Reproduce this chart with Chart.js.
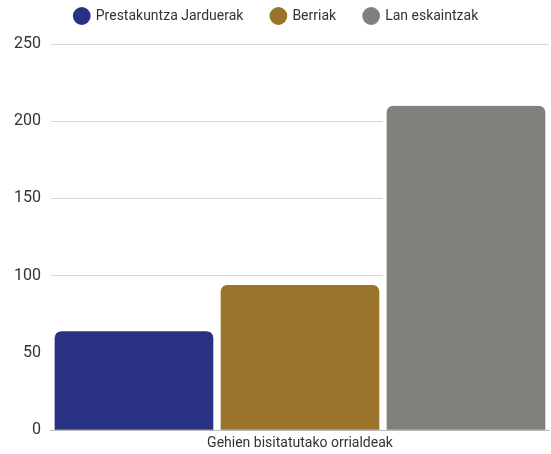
<!DOCTYPE html>
<html>
<head>
<meta charset="utf-8">
<script src="https://cdn.jsdelivr.net/npm/chart.js@4"></script>
<style>
  html, body { margin: 0; padding: 0; background: #fff; }
  #wrap { width: 551px; height: 454px; }
</style>
</head>
<body>
<div id="wrap"><canvas id="chart"></canvas></div>
<script>
// datuak
const categories = ['Gehien bisitatutako orrialdeak'];
const seriesNames = ['Prestakuntza Jarduerak', 'Berriak', 'Lan eskaintzak'];
const seriesValues = [[64], [94], [210]];
const seriesColors = ['#283182', '#9a742b', '#81807b'];
const yTicks = [0, 50, 100, 150, 200, 250];

const fontFamily = 'Roboto, sans-serif';

// legendaren azpian tarte gehiago
const legendMargin = {
  id: 'legendMargin',
  beforeInit(chart) {
    const origFit = chart.legend.fit;
    chart.legend.fit = function () {
      origFit.bind(chart.legend)();
      this.height += 11;
    };
  }
};

const ctx = document.getElementById('chart').getContext('2d');
const chart = new Chart(ctx, {
  type: 'bar',
  data: {
    labels: categories,
    datasets: seriesNames.map((name, i) => ({
      label: name,
      data: seriesValues[i],
      backgroundColor: seriesColors[i],
      borderColor: '#ffffff',
      borderWidth: { left: 4, right: 4, top: 0, bottom: 0 },
      borderRadius: 11,
      borderSkipped: 'start',
      categoryPercentage: 1,
      barPercentage: 1
    }))
  },
  options: {
    responsive: true,
    maintainAspectRatio: false,
    animation: false,
    layout: { padding: { left: 4, right: 2, top: -19, bottom: -3 } },
    plugins: {
      legend: {
        position: 'top',
        labels: {
          usePointStyle: true,
          pointStyle: 'circle',
          boxWidth: 14,
          boxHeight: 14,
          padding: 28,
          color: '#333',
          font: { family: fontFamily, size: 14 }
        }
      },
      tooltip: { enabled: false }
    },
    scales: {
      x: {
        grid: { display: false, drawTicks: false },
        border: { display: true, color: '#bbb' },
        ticks: { color: '#333', padding: 5, font: { family: fontFamily, size: 14 } }
      },
      y: {
        min: 0,
        max: 250,
        afterBuildTicks: axis => { axis.ticks = yTicks.map(v => ({ value: v })); },
        grid: { color: '#d6d6d6', drawTicks: false },
        border: { display: false },
        ticks: { color: '#333', padding: 10, font: { family: fontFamily, size: 16 } }
      }
    }
  },
  plugins: [legendMargin]
});
</script>
</body>
</html>
